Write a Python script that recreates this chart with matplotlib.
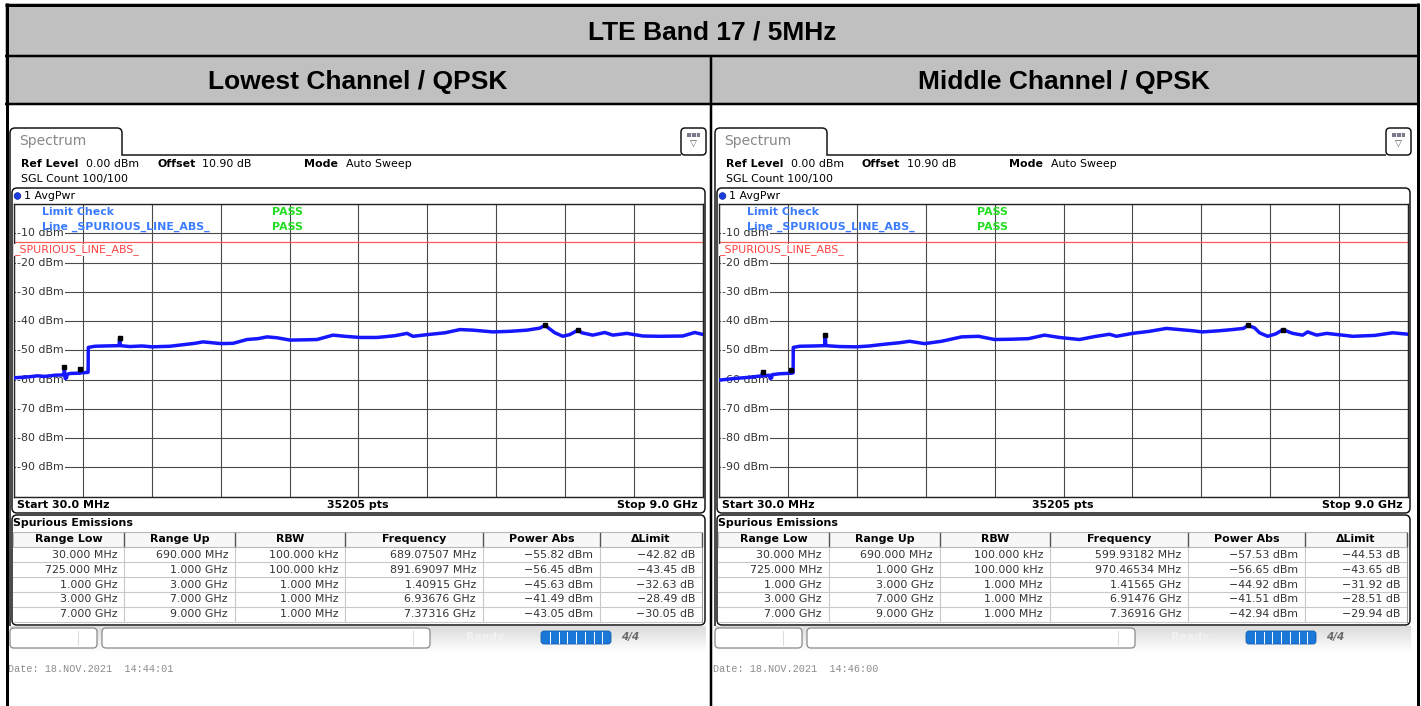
import matplotlib
matplotlib.use("Agg")
import matplotlib.pyplot as plt
import matplotlib.transforms as mtransforms
from matplotlib.patches import Rectangle, FancyBboxPatch, Circle, PathPatch
from matplotlib.path import Path
import numpy as np

# ---------------- data ----------------
main_title = "LTE Band 17 / 5MHz"
panel_titles = ["Lowest Channel / QPSK", "Middle Channel / QPSK"]
dates = ["Date: 18.NOV.2021  14:44:01", "Date: 18.NOV.2021  14:46:00"]

y_tick_values = [-10, -20, -30, -40, -50, -60, -70, -80, -90]
limit_dbm = -13.0
start_mhz = 30.0
stop_mhz = 9000.0

low_trace_mhz = [30, 140, 242, 340, 437, 567, 671, 684, 689.1, 694, 700, 718, 725, 762, 866, 887,
                 891.7, 896, 957, 998, 1000, 1087, 1217, 1400, 1409.2, 1418, 1543, 1700, 1830,
                 2063, 2193, 2388, 2492, 2609, 2727, 2883, 3065, 3208, 3325, 3455, 3625, 3820,
                 3975, 4183, 4339, 4534, 4756, 4990, 5146, 5224, 5419, 5640, 5835, 6004, 6264,
                 6485, 6706, 6875, 6936.8, 6978, 7069, 7173, 7264, 7373.2, 7420, 7563, 7719,
                 7823, 8005, 8213, 8434, 8733, 8889, 9000]
low_trace_dbm = [-59.4, -59.2, -59.0, -58.7, -58.9, -58.5, -58.4, -58.3, -55.8, -58.4, -59.6,
                 -59.4, -58.2, -57.9, -57.8, -57.7, -56.45, -57.7, -57.6, -57.5, -49.0, -48.6,
                 -48.5, -48.4, -45.63, -48.4, -48.7, -48.5, -48.8, -48.6, -48.2, -47.6, -47.1,
                 -47.4, -47.7, -47.6, -46.3, -46.0, -45.4, -45.7, -46.5, -46.4, -46.3, -44.8,
                 -45.2, -45.6, -45.6, -45.0, -44.2, -45.2, -44.6, -44.0, -42.9, -43.1, -43.7,
                 -43.5, -43.1, -42.4, -41.49, -42.2, -44.0, -45.2, -44.6, -43.05, -44.0, -44.8,
                 -43.9, -44.8, -44.2, -45.1, -45.2, -45.1, -43.9, -44.6]

mid_trace_mhz = [30, 238, 433, 563, 595, 599.9, 605, 654, 688, 700, 718, 725, 823, 900, 965,
                 970.5, 976, 998, 1000, 1082, 1277, 1408, 1415.7, 1424, 1602, 1823, 1992, 2187,
                 2382, 2512, 2707, 2929, 3189, 3410, 3618, 3839, 4060, 4268, 4463, 4723, 4918,
                 5113, 5204, 5412, 5633, 5854, 6023, 6192, 6322, 6544, 6713, 6856, 6914.8, 7000,
                 7065, 7170, 7274, 7369.2, 7496, 7626, 7691, 7808, 7938, 8276, 8562, 8797, 9000]
mid_trace_dbm = [-60.2, -59.6, -59.2, -58.8, -58.7, -57.53, -58.7, -58.6, -58.5, -59.6, -59.4,
                 -58.3, -58.0, -57.9, -57.8, -56.65, -57.8, -57.7, -49.0, -48.6, -48.5, -48.4,
                 -44.92, -48.4, -48.7, -48.8, -48.5, -47.9, -47.4, -46.9, -47.7, -46.9, -45.4,
                 -45.2, -46.3, -46.2, -46.0, -44.8, -45.6, -46.3, -45.3, -44.5, -45.2, -44.2,
                 -43.5, -42.5, -42.9, -43.3, -43.7, -43.3, -42.9, -42.5, -41.51, -42.3, -44.0,
                 -45.2, -44.4, -42.94, -44.2, -44.8, -43.7, -44.8, -44.2, -45.2, -44.9, -44.0,
                 -44.5]

low_marker_mhz = [689.07507, 891.69097, 1409.15, 6936.76, 7373.16]
low_marker_dbm = [-55.82, -56.45, -45.63, -41.49, -43.05]
mid_marker_mhz = [599.93182, 970.46534, 1415.65, 6914.76, 7369.16]
mid_marker_dbm = [-57.53, -56.65, -44.92, -41.51, -42.94]

table_headers = ["Range Low", "Range Up", "RBW", "Frequency", "Power Abs", "\u0394Limit"]
range_low = ["30.000 MHz", "725.000 MHz", "1.000 GHz", "3.000 GHz", "7.000 GHz"]
range_up = ["690.000 MHz", "1.000 GHz", "3.000 GHz", "7.000 GHz", "9.000 GHz"]
rbw = ["100.000 kHz", "100.000 kHz", "1.000 MHz", "1.000 MHz", "1.000 MHz"]
low_freq = ["689.07507 MHz", "891.69097 MHz", "1.40915 GHz", "6.93676 GHz", "7.37316 GHz"]
low_power = [-55.82, -56.45, -45.63, -41.49, -43.05]
low_delta = [-42.82, -43.45, -32.63, -28.49, -30.05]
mid_freq = ["599.93182 MHz", "970.46534 MHz", "1.41565 GHz", "6.91476 GHz", "7.36916 GHz"]
mid_power = [-57.53, -56.65, -44.92, -41.51, -42.94]
mid_delta = [-44.53, -43.65, -31.92, -28.51, -29.94]

# ---------------- figure ----------------
W, H = 1421, 706
fig = plt.figure(figsize=(W / 100, H / 100), dpi=100)
fig.patch.set_facecolor("white")
bg = fig.add_axes([0, 0, 1, 1])
bg.set_xlim(0, W)
bg.set_ylim(H, 0)
bg.axis("off")

def lw(px):
    return px * 0.72

RS = "DejaVu Sans"
FS = 7.9

# header table
bg.add_patch(Rectangle((5, 3), 1414, 101, fc="#c0c0c0", ec="none", zorder=0))
for xs, ys, w in [([6.5, 6.5], [3, 706], 3), ([1417.5, 1417.5], [3, 706], 3),
                  ([5, 1419], [4.5, 4.5], 3), ([5, 1419], [56, 56], 2.5),
                  ([5, 1419], [104, 104], 2.5), ([711, 711], [56, 706], 2.5)]:
    bg.plot(xs, ys, color="black", lw=lw(w), solid_capstyle="butt", zorder=5)
bg.text(712, 32.5, main_title, ha="center", va="center", fontsize=19,
        fontweight="bold", family="Liberation Sans")
for cx, t in zip([358, 1064], panel_titles):
    bg.text(cx, 82, t, ha="center", va="center", fontsize=19,
            fontweight="bold", family="Liberation Sans")


def draw_panel(ox, trace_f, trace_p, mk_f, mk_p, freq_col, power_col, delta_col, date):
    # spectrum window frame with tab
    r = 5
    verts = [(10 + ox, 626), (10 + ox, 128 + r), (10 + ox, 128), (10 + ox + r, 128),
             (122 + ox - r, 128), (122 + ox, 128), (122 + ox, 128 + r), (122 + ox, 155),
             (681 + ox, 155)]
    codes = [Path.MOVETO, Path.LINETO, Path.CURVE3, Path.CURVE3, Path.LINETO,
             Path.CURVE3, Path.CURVE3, Path.LINETO, Path.LINETO]
    bg.add_patch(PathPatch(Path(verts, codes), fc="none", ec="#111", lw=lw(1.5), zorder=2))
    bg.text(19 + ox, 141.5, "Spectrum", fontsize=10, color="#888888", va="center",
            family=RS)
    # icon
    bg.add_patch(FancyBboxPatch((681 + ox, 128), 25, 27,
                                boxstyle="round,pad=0,rounding_size=4",
                                fc="white", ec="#111", lw=lw(1.5), zorder=2))
    bg.add_patch(Rectangle((687 + ox, 132.5), 13, 4.5, fc="#7a7a8a", ec="none", zorder=3))
    for xx in [691.3, 695.6]:
        bg.plot([xx + ox, xx + ox], [132.5, 137], color="white", lw=0.6, zorder=4)
    bg.text(693.5 + ox, 144.5, "\u25BD", fontsize=6.5, color="#555", ha="center",
            va="center", family=RS, zorder=4)

    # info lines
    bg.text(21 + ox, 164, "Ref Level", fontsize=FS, fontweight="bold", va="center", family=RS)
    bg.text(86 + ox, 164, "0.00 dBm", fontsize=FS, va="center", family=RS)
    bg.text(157 + ox, 164, "Offset", fontsize=FS, fontweight="bold", va="center", family=RS)
    bg.text(202 + ox, 164, "10.90 dB", fontsize=FS, va="center", family=RS)
    bg.text(304 + ox, 164, "Mode", fontsize=FS, fontweight="bold", va="center", family=RS)
    bg.text(346 + ox, 164, "Auto Sweep", fontsize=FS, va="center", family=RS)
    bg.text(21 + ox, 179, "SGL Count 100/100", fontsize=FS, va="center", family=RS)

    # trace box
    bg.add_patch(FancyBboxPatch((12 + ox, 188), 693, 325,
                                boxstyle="round,pad=0,rounding_size=5",
                                fc="white", ec="#111", lw=lw(1.5), zorder=1))
    bg.add_patch(Circle((17.5 + ox, 196), 3.4, fc="#1a3de0", ec="#0a1a90", lw=0.4, zorder=3))
    bg.text(24 + ox, 196, "1 AvgPwr", fontsize=FS, va="center", family=RS)
    bg.text(17 + ox, 505, "Start 30.0 MHz", fontsize=FS, fontweight="bold", va="center",
            family=RS)
    bg.text(358 + ox, 505, "35205 pts", fontsize=FS, fontweight="bold", va="center",
            ha="center", family=RS)
    bg.text(698 + ox, 505, "Stop 9.0 GHz", fontsize=FS, fontweight="bold", va="center",
            ha="right", family=RS)

    # spectrum axes
    gx0, gx1, gy0, gy1 = 13.7 + ox, 703.3 + ox, 204.0, 496.7
    ax = fig.add_axes([gx0 / W, 1 - gy1 / H, (gx1 - gx0) / W, (gy1 - gy0) / H])
    ax.set_xlim(start_mhz, stop_mhz)
    ax.set_ylim(-100, 0)
    ax.set_xticks(np.linspace(start_mhz, stop_mhz, 11))
    ax.set_yticks(np.arange(-100, 1, 10))
    ax.grid(True, color="#4a4a4a", lw=0.8)
    ax.set_axisbelow(True)
    ax.tick_params(length=0, labelleft=False, labelbottom=False)
    for s in ax.spines.values():
        s.set_color("#222")
        s.set_linewidth(1.0)
    blend = mtransforms.blended_transform_factory(bg.transData, ax.transData)
    for v in y_tick_values:
        ax.text(17 + ox, v, f"{v} dBm", transform=blend, fontsize=FS, color="#333",
                va="center", ha="left", family=RS, zorder=2,
                bbox=dict(fc="white", ec="none", pad=0.6))
    ax.axhline(limit_dbm, color="#ff5a5a", lw=0.9, zorder=2.5)
    ax.plot(trace_f, trace_p, color="#1616ff", lw=2.5, zorder=3, solid_joinstyle="round")
    ax.plot(mk_f, mk_p, "s", color="black", ms=3.4, zorder=4)

    tr = bg.transData
    ax.text(42 + ox, 212, "Limit Check", transform=tr, fontsize=FS, color="#3a7bff",
            fontweight="bold", va="center", family=RS, zorder=5)
    ax.text(42 + ox, 227, "Line _SPURIOUS_LINE_ABS_", transform=tr, fontsize=FS,
            color="#3a7bff", fontweight="bold", va="center", family=RS, zorder=5)
    ax.text(272 + ox, 212, "PASS", transform=tr, fontsize=FS, color="#22dd22",
            fontweight="bold", va="center", family=RS, zorder=5)
    ax.text(272 + ox, 227, "PASS", transform=tr, fontsize=FS, color="#22dd22",
            fontweight="bold", va="center", family=RS, zorder=5)
    ax.text(14 + ox, 250, "_SPURIOUS_LINE_ABS_", transform=tr, fontsize=FS,
            color="#ff4040", va="center", family=RS, zorder=5,
            bbox=dict(fc="white", ec="none", pad=0.3))

    # spurious emissions table
    bg.add_patch(FancyBboxPatch((12 + ox, 515), 693, 110,
                                boxstyle="round,pad=0,rounding_size=5",
                                fc="white", ec="#111", lw=lw(1.5), zorder=1))
    bg.text(13 + ox, 523, "Spurious Emissions", fontsize=FS, fontweight="bold",
            va="center", family=RS, zorder=3)
    bounds = [13, 124, 235, 345, 483, 600, 702]
    bounds = [b + ox for b in bounds]
    hy0, hy1 = 532, 547
    bg.add_patch(Rectangle((bounds[0], hy0), bounds[-1] - bounds[0], hy1 - hy0,
                           fc="#f7f7f7", ec="#b8b8b8", lw=0.8, zorder=2))
    for b in bounds[1:]:
        bg.plot([b, b], [hy0 + 1, hy1 - 1], color="#555", lw=1.0, zorder=3)
    for i, h in enumerate(table_headers):
        bg.text((bounds[i] + bounds[i + 1]) / 2, 539.5, h, fontsize=FS, fontweight="bold",
                ha="center", va="center", family=RS, zorder=3)
    row_h = 14.8
    rows = list(zip(range_low, range_up, rbw, freq_col,
                    [f"{p:.2f} dBm".replace("-", "\u2212") for p in power_col],
                    [f"{d:.2f} dB".replace("-", "\u2212") for d in delta_col]))
    for r_i, row in enumerate(rows):
        top = 547.5 + r_i * row_h
        bg.plot([bounds[0], bounds[-1]], [top + row_h, top + row_h], color="#c8c8c8",
                lw=0.8, zorder=2)
        for c_i, cell in enumerate(row):
            bg.text(bounds[c_i + 1] - 7, top + row_h / 2, cell, fontsize=FS, color="#333",
                    ha="right", va="center", family=RS, zorder=3)
    for b in bounds[1:-1]:
        bg.plot([b, b], [hy1, 547.5 + 5 * row_h], color="#c8c8c8", lw=0.8, zorder=2)
    bg.plot([bounds[-1], bounds[-1]], [hy1, 547.5 + 5 * row_h], color="#999", lw=0.8, zorder=2)

    # status bar
    grad = np.linspace(0.86, 1.0, 30).reshape(-1, 1)
    bg.imshow(grad, extent=(10 + ox, 706 + ox, 653, 626), cmap="gray", vmin=0, vmax=1,
              aspect="auto", origin="upper", zorder=0.5)
    for (bx, bw) in [(10, 87), (102, 328)]:
        bg.add_patch(FancyBboxPatch((bx + ox, 628), bw, 20,
                                    boxstyle="round,pad=0,rounding_size=4",
                                    fc="white", ec="#8a8a8a", lw=0.9, zorder=2))
    bg.plot([78 + ox, 78 + ox], [631, 645], color="#dddddd", lw=0.8, zorder=3)
    bg.plot([413 + ox, 413 + ox], [631, 645], color="#dddddd", lw=0.8, zorder=3)
    bg.text(485 + ox, 637, "Ready", fontsize=FS, color="#f2f2f2", fontweight="bold",
            ha="center", va="center", family=RS, zorder=3)
    bg.add_patch(FancyBboxPatch((541 + ox, 631), 70, 13,
                                boxstyle="round,pad=0,rounding_size=3",
                                fc="#1c78d8", ec="#1060b0", lw=0.6, zorder=3))
    for k in range(1, 8):
        xx = 541 + ox + 70 * k / 8
        bg.plot([xx, xx], [632, 643], color="white", lw=0.7, zorder=4)
    bg.text(630 + ox, 637, "4/4", fontsize=7.5, color="#6a6a6a", fontweight="bold",
            style="italic", ha="center", va="center", family=RS, zorder=3)

    bg.text(8 + ox, 669, date, fontsize=7.3, color="#8c8c8c", va="center",
            family="Liberation Mono", zorder=3)


draw_panel(0, low_trace_mhz, low_trace_dbm, low_marker_mhz, low_marker_dbm,
           low_freq, low_power, low_delta, dates[0])
draw_panel(705, mid_trace_mhz, mid_trace_dbm, mid_marker_mhz, mid_marker_dbm,
           mid_freq, mid_power, mid_delta, dates[1])

bg.set_xlim(0, W)
bg.set_ylim(H, 0)
fig.savefig("out.png", dpi=100, facecolor="white")
